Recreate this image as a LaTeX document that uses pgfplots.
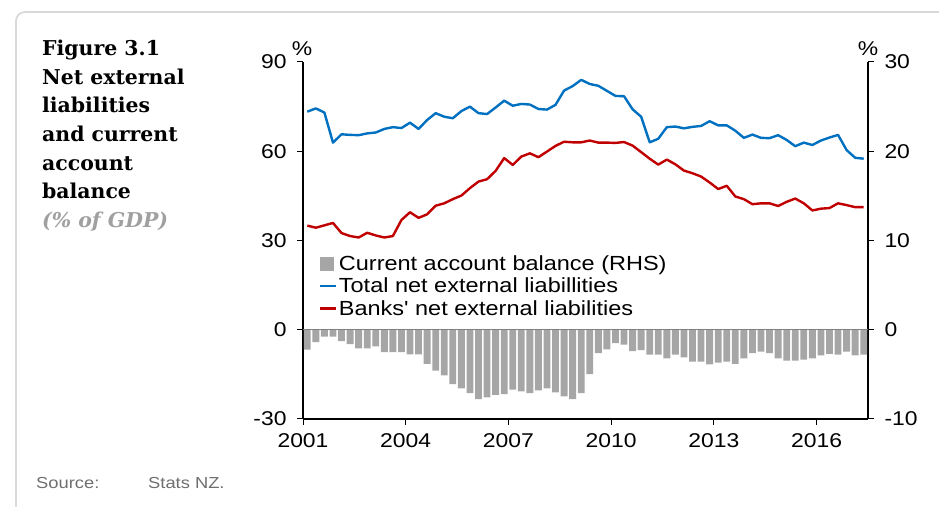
\documentclass[border=0pt]{standalone}
\usepackage{pgfplots}
\pgfplotsset{compat=1.18}
\usepackage{pgfplotstable}
\usepackage{fontspec}
\setmainfont{Liberation Sans}[FakeStretch=1.15, Ligatures=TeXOff]
\newfontfamily\titlefont{DejaVu Serif}
\definecolor{barGray}{HTML}{A6A6A6}
\definecolor{lineBlue}{HTML}{0070C0}
\definecolor{lineRed}{HTML}{C00000}
\definecolor{frameGray}{HTML}{D9D9D9}
\definecolor{srcGray}{HTML}{6E6E6E}
\definecolor{subGray}{HTML}{A0A0A0}

\pgfplotstableread{
x bar total banks
2001.125 -2.24 73.3 35.0
2001.375 -1.38 74.4 34.3
2001.625 -0.78 73.0 35.1
2001.875 -0.78 62.9 35.9
2002.125 -1.27 65.7 32.5
2002.375 -1.60 65.5 31.5
2002.625 -2.09 65.4 31.0
2002.875 -2.09 66.0 32.6
2003.125 -1.87 66.3 31.7
2003.375 -2.50 67.5 31.0
2003.625 -2.50 68.1 31.5
2003.875 -2.50 67.8 36.9
2004.125 -2.76 69.6 39.5
2004.375 -2.76 67.5 37.6
2004.625 -3.81 70.5 38.8
2004.875 -4.59 72.8 41.7
2005.125 -5.11 71.6 42.5
2005.375 -6.08 71.1 43.9
2005.625 -6.57 73.5 45.1
2005.875 -7.09 75.0 47.6
2006.125 -7.76 72.8 49.8
2006.375 -7.57 72.5 50.6
2006.625 -7.31 74.7 53.4
2006.875 -7.20 77.0 57.7
2007.125 -6.72 75.3 55.4
2007.375 -6.90 75.9 58.2
2007.625 -7.09 75.7 59.3
2007.875 -6.79 74.2 58.0
2008.125 -6.57 74.0 59.9
2008.375 -7.01 75.6 61.8
2008.625 -7.46 80.4 63.2
2008.875 -7.76 81.9 63.0
2009.125 -7.09 84.0 63.0
2009.375 -4.96 82.6 63.6
2009.625 -2.61 82.0 62.9
2009.875 -2.20 80.3 62.9
2010.125 -1.49 78.6 62.8
2010.375 -1.68 78.5 63.1
2010.625 -2.39 74.1 61.9
2010.875 -2.28 71.6 59.7
2011.125 -2.80 63.0 57.5
2011.375 -2.80 64.2 55.5
2011.625 -3.21 68.1 57.2
2011.875 -2.80 68.3 55.6
2012.125 -3.10 67.7 53.5
2012.375 -3.58 68.2 52.6
2012.625 -3.58 68.5 51.5
2012.875 -3.88 70.1 49.5
2013.125 -3.69 68.7 47.3
2013.375 -3.58 68.7 48.4
2013.625 -3.81 66.9 44.8
2013.875 -3.21 64.5 43.9
2014.125 -2.61 65.6 42.2
2014.375 -2.46 64.5 42.5
2014.625 -2.61 64.4 42.5
2014.875 -3.21 65.4 41.6
2015.125 -3.47 63.8 43.0
2015.375 -3.47 61.7 44.1
2015.625 -3.36 62.9 42.5
2015.875 -3.21 62.1 40.1
2016.125 -2.87 63.6 40.7
2016.375 -2.69 64.6 40.9
2016.625 -2.80 65.5 42.5
2016.875 -2.46 60.4 41.9
2017.125 -2.87 57.8 41.2
2017.375 -2.80 57.5 41.2
}\data

\begin{document}
\begin{tikzpicture}
\path[use as bounding box] (0,0) rectangle (939bp,507bp);
\draw[frameGray, line width=1.8bp, rounded corners=9bp] (16bp,-5bp) -- (16bp,495bp) -- (950bp,495bp);
% title
\begin{scope}[every node/.style={anchor=base west, inner sep=0pt, font=\titlefont\bfseries\fontsize{20.5}{24}\selectfont}]
\node at (42bp,451.3bp) {Figure 3.1};
\node at (42bp,422.7bp) {Net external};
\node at (42bp,394.0bp) {liabilities};
\node at (42bp,365.4bp) {and current};
\node at (42bp,336.8bp) {account};
\node at (42bp,308.2bp) {balance};
\node[text=subGray, font=\titlefont\bfseries\itshape\fontsize{20.5}{24}\selectfont] at (42bp,279bp) {(\% of GDP)};
\end{scope}
% source
\node[anchor=base west, inner sep=0pt, text=srcGray, font=\fontsize{16}{18}\selectfont] at (36bp,18.7bp) {Source:};
\node[anchor=base west, inner sep=0pt, text=srcGray, font=\fontsize{16}{18}\selectfont] at (148bp,18.7bp) {Stats NZ.};
% percent signs
\node[anchor=base, inner sep=0pt, font=\fontsize{20}{22}\selectfont] at (302bp,451bp) {\%};
\node[anchor=base, inner sep=0pt, font=\fontsize{20}{22}\selectfont] at (868bp,451bp) {\%};

\pgfplotsset{
  common/.style={
    at={(303bp,88bp)}, anchor=south west, scale only axis,
    width=565bp, height=357bp,
    xmin=2001, xmax=2017.5,
    tick align=outside, major tick length=6bp,
    tick style={black, line width=1bp},
    axis line style={black, line width=1.2bp},
    ticklabel style={font=\fontsize{20}{24}\selectfont},
    /pgf/number format/assume math mode=true,
    scaled ticks=false,
  }
}
\begin{axis}[common,
  axis x line*=bottom, axis y line*=left,
  ymin=-30, ymax=90,
  xtick={2001,2004,2007,2010,2013,2016},
  ytick={-30,0,30,60,90},
  xticklabel style={/pgf/number format/1000 sep={}, yshift=-5bp},
  yticklabel style={xshift=-7bp},
  legend style={at={(0.028,0.462)}, anchor=north west, draw=none, fill=none,
    font=\fontsize{20.5}{22}\selectfont, row sep=3bp, inner sep=0pt,
    nodes={inner sep=1.5bp}},
  legend cell align=left,
]
\addlegendimage{legend image code/.code={\fill[barGray] (0bp,-6.5bp) rectangle (13bp,6.5bp);}}
\addlegendentry{Current account balance (RHS)}
\addplot[lineBlue, line width=2.4bp, line join=round,
  legend image code/.code={\draw[lineBlue, line width=2.4bp] (0bp,0bp) -- (16bp,0bp);}]
  table[x=x, y=total]{\data};
\addlegendentry{Total net external liabillities}
\addplot[lineRed, line width=2.4bp, line join=round,
  legend image code/.code={\draw[lineRed, line width=2.4bp] (0bp,0bp) -- (16bp,0bp);}]
  table[x=x, y=banks]{\data};
\addlegendentry{Banks' net external liabilities}
\end{axis}

\begin{axis}[common,
  axis x line=none, axis y line*=right,
  ymin=-10, ymax=30,
  ytick={-10,0,10,20,30},
  yticklabel style={xshift=7bp},
]
\addplot[ybar, bar width=0.2, fill=barGray, draw=none] table[x=x, y=bar]{\data};
\draw[gray, line width=1.3bp] (axis cs:2001,0) -- (axis cs:2017.5,0);
\end{axis}
\end{tikzpicture}
\end{document}
